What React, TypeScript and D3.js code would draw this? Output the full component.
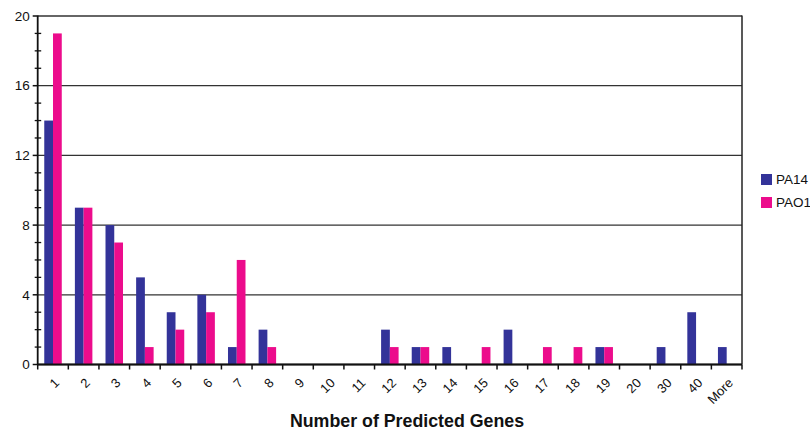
import React from "react";
import * as d3 from "d3";

const categories = ["1","2","3","4","5","6","7","8","9","10","11","12","13","14","15","16","17","18","19","20","30","40","More"];
const pa14 = [14,9,8,5,3,4,1,2,0,0,0,2,1,1,0,2,0,0,1,0,1,3,1];
const pao1 = [19,9,7,1,2,3,6,1,0,0,0,1,1,0,1,0,1,1,1,0,0,0,0];
const seriesNames = ["PA14", "PAO1"];
const seriesColors = ["#333399", "#EC0C8C"];
const yTicks = [0, 4, 8, 12, 16, 20];

const W = 810, H = 431;
const left = 37.7, right = 742, top = 16, bottom = 364.5;
const font = "Liberation Sans, Arial, Helvetica, sans-serif";

export default function App() {
  // two bars per category with a 150% gap between groups
  const x = d3.scaleBand<string>().domain(categories).range([left, right])
    .paddingInner(1.5 / 3.5).paddingOuter(0.75 / 3.5);
  const xs = d3.scaleBand<string>().domain(seriesNames).range([0, x.bandwidth()]);
  const step = x.step();
  const y = d3.scaleLinear().domain([0, 20]).range([bottom, top]);
  const minor = d3.range(0, 21, 1).filter(v => v % 4 !== 0);
  const series = [pa14, pao1];

  return (
    <svg width={W} height={H} style={{ position: "absolute", left: 0, top: 0, background: "#fff" }} fontFamily={font}>
      {/* gridlines */}
      {yTicks.map(t => (
        <line key={"g" + t} x1={left} x2={right} y1={y(t)} y2={y(t)} stroke="#333" strokeWidth={1.3} />
      ))}
      {/* bars */}
      {series.map((vals, si) =>
        vals.map((v, i) => v > 0 ? (
          <rect key={si + "-" + i}
            x={(x(categories[i]) ?? 0) + (xs(seriesNames[si]) ?? 0)}
            y={y(v)} width={xs.bandwidth()} height={y(0) - y(v)} fill={seriesColors[si]} />
        ) : null)
      )}
      {/* right frame */}
      <line x1={right} x2={right} y1={top - 0.6} y2={bottom} stroke="#222" strokeWidth={1.5} />
      {/* y axis */}
      <line x1={left} x2={left} y1={top - 0.6} y2={bottom + 0.6} stroke="#111" strokeWidth={1.8} />
      {yTicks.map(t => (
        <g key={"yt" + t}>
          <line x1={left - 5} x2={left} y1={y(t)} y2={y(t)} stroke="#111" strokeWidth={1.5} />
          <text x={left - 8} y={y(t)} dy="0.35em" textAnchor="end" fontSize={13.5} fill="#111">{t}</text>
        </g>
      ))}
      {minor.map(t => (
        <line key={"m" + t} x1={left - 3} x2={left + 3.5} y1={y(t)} y2={y(t)} stroke="#111" strokeWidth={1.3} />
      ))}
      {/* x axis */}
      <line x1={left} x2={right} y1={bottom} y2={bottom} stroke="#111" strokeWidth={1.8} />
      {d3.range(categories.length + 1).map(i => (
        <line key={"xt" + i} x1={left + i * step} x2={left + i * step} y1={bottom} y2={bottom + 5} stroke="#111" strokeWidth={1.5} />
      ))}
      {categories.map(c => {
        const center = (x(c) ?? 0) + x.bandwidth() / 2;
        return (
          <text key={"xl" + c} transform={`translate(${center + 4},${bottom + 16}) rotate(-45)`}
            textAnchor="end" fontSize={13} fill="#111" dy="0.35em">{c}</text>
        );
      })}
      <text x={407} y={427} textAnchor="middle" fontSize={17.8} fontWeight="bold" fill="#111">Number of Predicted Genes</text>
      {/* legend */}
      {seriesNames.map((n, i) => (
        <g key={n} transform={`translate(761,${174 + i * 23})`}>
          <rect x={0} y={0} width={11} height={11} fill={seriesColors[i]} />
          <text x={15} y={5.5} dy="0.35em" fontSize={13.5} fill="#111">{n}</text>
        </g>
      ))}
    </svg>
  );
}
